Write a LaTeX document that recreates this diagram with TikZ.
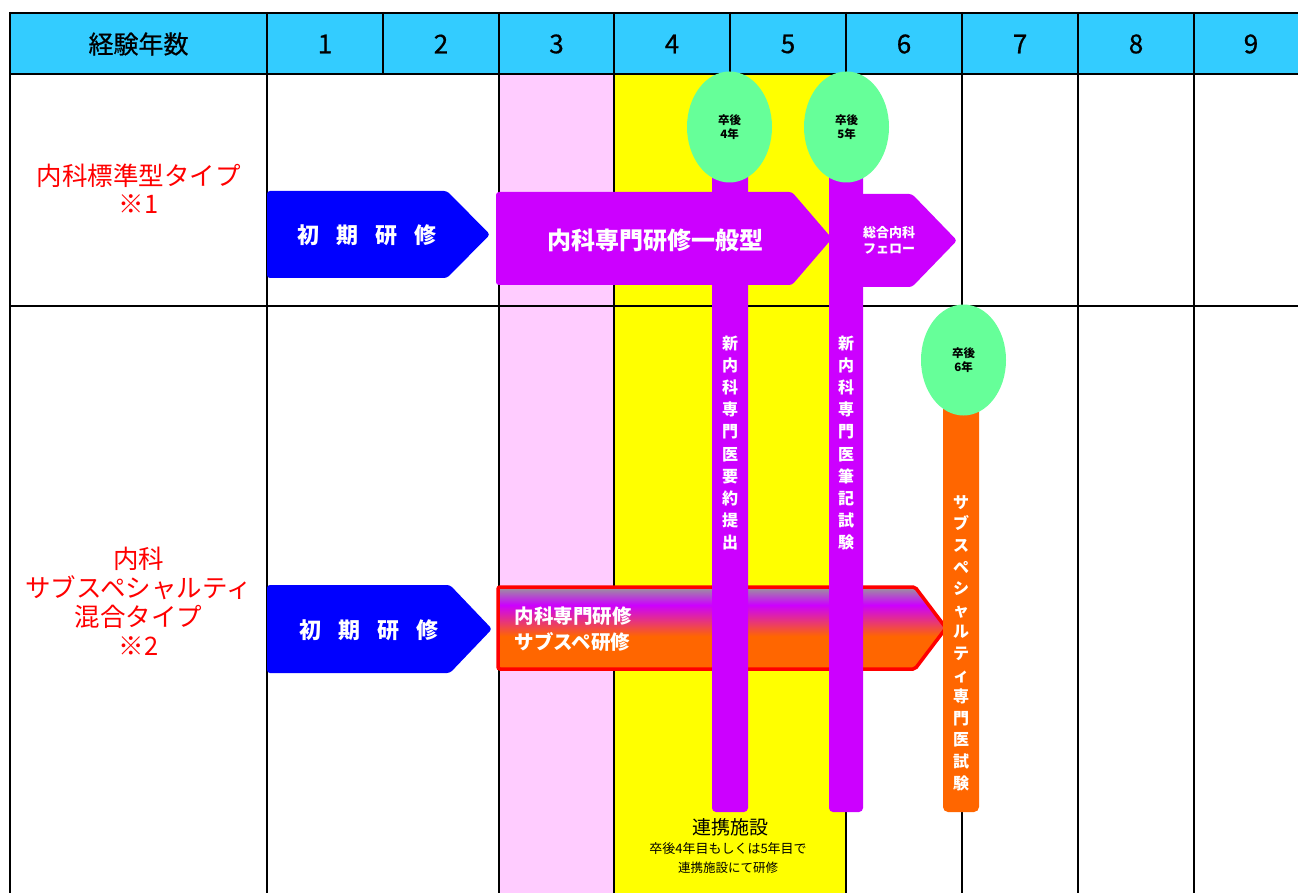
\documentclass[tikz,border=0pt]{standalone}
\usepackage{fontspec}
\setmainfont{Noto Sans CJK JP}
\newfontfamily\jpsemi[FakeBold=0.6]{Noto Sans CJK JP}
\usetikzlibrary{shapes.geometric}
\definecolor{hdr}{HTML}{33CCFF}
\definecolor{pinkcol}{HTML}{FFCCFF}
\definecolor{yel}{HTML}{FFFF00}
\definecolor{mgt}{HTML}{CC00FF}
\definecolor{blu}{HTML}{0000FF}
\definecolor{grn}{HTML}{66FF99}
\definecolor{orng}{HTML}{FF6600}
\definecolor{gry}{HTML}{999999}
\definecolor{redtxt}{HTML}{FF0000}
\pgfdeclareverticalshading{armgrad}{100bp}{color(0bp)=(orng); color(45bp)=(orng); color(64bp)=(mgt); color(75bp)=(gry); color(100bp)=(gry)}
\newcommand{\fs}[2]{\fontsize{#1}{#2}\selectfont}
\begin{document}
\begin{tikzpicture}[x=1pt,y=-1pt,
  gridline/.style={line width=2pt,black},
  hdrtxt/.style={font=\jpsemi\fs{25}{28}},
  numtxt/.style={font=\jpsemi\fs{26}{28}},
  rowlbl/.style={text=redtxt,align=center},
  arrowshape/.style={rounded corners=3pt},
  whitebold/.style={text=white,font=\bfseries},
  vbar/.style={fill=mgt,rounded corners=4pt},
  vtext/.style={text=white,align=center,font=\fs{16}{22.2}\bfseries,inner sep=0pt},
  bubble/.style={ellipse,fill=grn,minimum width=85pt,minimum height=111pt,inner sep=0pt,align=center,font=\fs{11.5}{13.5}\bfseries}
]
\useasboundingbox (0,0) rectangle (1298,893);
\fill[white] (0,0) rectangle (1298,893);
% header and columns
\fill[hdr] (10,13) rectangle (1298,74);
\fill[pinkcol] (499,74) rectangle (614,893);
\fill[yel] (614,74) rectangle (846,893);
% grid
\draw[gridline] (10,13) -- (1298,13);
\draw[gridline] (10,74) -- (1298,74);
\draw[gridline] (10,306) -- (1298,306);
\draw[gridline] (10,12) -- (10,893);
\foreach \xx in {267,499,614,846,962,1078,1194} {\draw[gridline] (\xx,12) -- (\xx,893);}
\foreach \xx in {383,730} {\draw[gridline] (\xx,12) -- (\xx,74);}
% header text
\node[hdrtxt] (h0) at (138.5,44) {経験年数};
\node[numtxt] (h1) at (325,44) {1};
\node[numtxt] (h2) at (441,44) {2};
\node[numtxt] (h3) at (556.5,44) {3};
\node[numtxt] (h4) at (672,44) {4};
\node[numtxt] (h5) at (788,44) {5};
\node[numtxt] (h6) at (904,44) {6};
\node[numtxt] (h7) at (1020,44) {7};
\node[numtxt] (h8) at (1136,44) {8};
\node[numtxt] (h9) at (1251,44) {9};
% row labels
\node[rowlbl,font=\fs{25.5}{28}] (lbl1) at (138.5,189) {内科標準型タイプ\\※1};
\node[rowlbl,font=\fs{25.5}{29}] (lbl2) at (138.5,601) {内科\\サブスペシャルティ\\混合タイプ\\※2};
% row 1 arrows
\fill[blu,arrowshape] (267,191) -- (447,191) -- (490,234.5) -- (447,278) -- (267,278) -- cycle;
\node[whitebold,font=\fs{22}{26}\bfseries] (t1) at (367,235) {初\hspace{17pt}期\hspace{17pt}研\hspace{17pt}修};
\fill[mgt,arrowshape] (496,192) -- (792,192) -- (832,238.5) -- (792,285) -- (496,285) -- cycle;
\fill[mgt,arrowshape] (840,194) -- (912,194) -- (957,240.5) -- (912,287) -- (840,287) -- cycle;
% row 2 arrows
\fill[blu,arrowshape] (267,585) -- (450,585) -- (492,629) -- (450,673) -- (267,673) -- cycle;
\node[whitebold,font=\fs{22}{26}\bfseries] (t3) at (369,630) {初\hspace{17pt}期\hspace{17pt}研\hspace{17pt}修};
\shadedraw[shading=armgrad,draw=red,line width=3.5pt,rounded corners=2pt] (498,587) -- (915,587) -- (946,628) -- (915,669) -- (498,669) -- cycle;
\node[whitebold,anchor=west,align=left,font=\fs{19.5}{26}\bfseries] (t4) at (511,629) {内科専門研修\\サブスペ研修};
% vertical bars
\fill[vbar] (712,110) rectangle (748,812);
\fill[vbar] (829,110) rectangle (863,812);
\fill[orng,rounded corners=5pt] (943,380) rectangle (979,812);
\node[whitebold,font=\fs{24}{26}\bfseries] (t2) at (655,240) {内科専門研修一般型};
\node[whitebold,align=center,font=\fs{13}{16}\bfseries] (t5) at (889,240) {総合内科\\フェロー};
% bubbles
\node[bubble] (e1) at (729.5,127) {卒後\\4年};
\node[bubble] (e2) at (846.5,127) {卒後\\5年};
\node[bubble] (e3) at (963.5,360) {卒後\\6年};
% vertical texts
\node[vtext] (v1) at (730,443) {新\\内\\科\\専\\門\\医\\要\\約\\提\\出};
\node[vtext] (v2) at (846,443) {新\\内\\科\\専\\門\\医\\筆\\記\\試\\験};
\node[vtext,font=\fs{16}{21.6}\bfseries] (v3) at (961,643) {サ\\ブ\\ス\\ペ\\シ\\ャ\\ル\\テ\\ィ\\専\\門\\医\\試\\験};
% bottom notes
\node[font=\fs{19}{22}] (n1) at (730,827) {連携施設};
\node[font=\fs{13}{16}] (n2) at (728,849) {卒後4年目もしくは5年目で};
\node[font=\fs{12.5}{16}] (n3) at (728,868) {連携施設にて研修};
\end{tikzpicture}
\end{document}
